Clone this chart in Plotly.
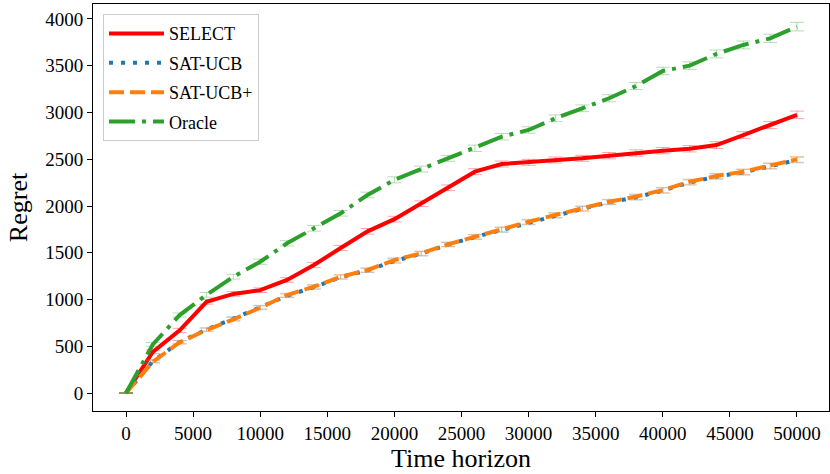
import plotly.graph_objects as go

time_steps = [0, 2000, 4000, 6000, 8000, 10000, 12000, 14000, 16000, 18000, 20000,
              22000, 24000, 26000, 28000, 30000, 32000, 34000, 36000, 38000, 40000,
              42000, 44000, 46000, 48000, 50000]

select_regret = [0, 440, 670, 975, 1060, 1100, 1209, 1369, 1551, 1729, 1860,
                 2025, 2195, 2367, 2449, 2467, 2492, 2510, 2538, 2567, 2592,
                 2612, 2652, 2759, 2866, 2975]
select_err = [5, 20, 22, 25, 25, 25, 25, 28, 28, 30, 30,
              30, 30, 32, 32, 32, 32, 32, 34, 34, 34, 34, 36, 36, 38, 40]

sat_ucb_regret = [0, 340, 545, 680, 795, 918, 1040, 1132, 1240, 1312, 1412,
                  1490, 1588, 1668, 1745, 1825, 1898, 1970, 2040, 2092, 2165,
                  2252, 2315, 2360, 2425, 2492]
sat_ucb_err = [5, 15, 18, 18, 20, 20, 20, 22, 22, 22, 24,
               24, 24, 24, 26, 26, 26, 26, 26, 28, 28, 28, 28, 30, 30, 30]

sat_ucb_plus_regret = [0, 335, 542, 674, 788, 912, 1048, 1137, 1244, 1316, 1422,
                       1494, 1590, 1672, 1751, 1832, 1904, 1975, 2046, 2100, 2171,
                       2260, 2321, 2367, 2431, 2499]
sat_ucb_plus_err = [5, 15, 18, 18, 20, 20, 20, 22, 22, 22, 24,
                    24, 24, 24, 26, 26, 26, 26, 26, 28, 28, 28, 28, 30, 30, 30]

oracle_regret = [0, 520, 834, 1050, 1244, 1404, 1601, 1761, 1922, 2118, 2280,
                 2395, 2510, 2617, 2741, 2813, 2938, 3045, 3152, 3283, 3444,
                 3501, 3626, 3722, 3793, 3918]
oracle_err = [5, 20, 22, 25, 25, 28, 28, 30, 30, 30, 32,
              32, 32, 34, 34, 34, 36, 36, 38, 38, 40, 40, 42, 42, 44, 46]

x_ticks = [0, 5000, 10000, 15000, 20000, 25000, 30000, 35000, 40000, 45000, 50000]
x_tick_labels = ["0", "5000", "10000", "15000", "20000", "25000", "30000",
                 "35000", "40000", "45000", "50000"]
y_ticks = [0, 500, 1000, 1500, 2000, 2500, 3000, 3500, 4000]
y_tick_labels = ["0", "500", "1000", "1500", "2000", "2500", "3000", "3500", "4000"]

series = [
    ("SELECT", select_regret, select_err, "#ff0000", "rgba(255,0,0,0.35)", "solid", 4),
    ("SAT-UCB", sat_ucb_regret, sat_ucb_err, "#1f77b4", "rgba(31,119,180,0.35)", "4px,8px", 4),
    ("SAT-UCB+", sat_ucb_plus_regret, sat_ucb_plus_err, "#ff7f0e", "rgba(255,127,14,0.35)", "15px,6px", 4),
    ("Oracle", oracle_regret, oracle_err, "#2ca02c", "rgba(44,160,44,0.35)", "26px,7px,4px,7px", 4),
]

fig = go.Figure()
for name, vals, err, color, ecolor, dash, lw in series:
    fig.add_trace(go.Scatter(
        x=time_steps, y=vals, mode="lines", name=name, legendgroup=name,
        line=dict(color=color, width=lw, dash=dash),
        error_y=dict(type="data", array=err, color=ecolor, thickness=1, width=7),
    ))

font_family = "Liberation Serif, Times New Roman, serif"
fig.update_layout(
    width=830, height=474,
    margin=dict(l=93, r=1, t=4, b=63),
    paper_bgcolor="white", plot_bgcolor="white",
    font=dict(family=font_family, size=18, color="black"),
    showlegend=True,
    legend=dict(x=0.0136, y=0.975, xanchor="left", yanchor="top",
                bgcolor="rgba(255,255,255,0.8)", bordercolor="#cccccc", borderwidth=1,
                font=dict(family=font_family, size=18, color="black"),
                tracegroupgap=3, itemwidth=55),
    xaxis=dict(range=[-2460, 52385], tickvals=x_ticks, ticktext=x_tick_labels,
               ticks="outside", ticklen=5,
               tickcolor="black", showline=True, linecolor="black", linewidth=1,
               mirror=True, showgrid=False, zeroline=False,
               tickfont=dict(family=font_family, size=19),
               title=dict(text="Time horizon", font=dict(family=font_family, size=26), standoff=2)),
    yaxis=dict(range=[-192, 4160], tickvals=y_ticks, ticktext=y_tick_labels,
               ticks="outside", ticklen=5,
               tickcolor="black", showline=True, linecolor="black", linewidth=1,
               mirror=True, showgrid=False, zeroline=False,
               tickfont=dict(family=font_family, size=19),
               title=dict(text="Regret", font=dict(family=font_family, size=26), standoff=10)),
)

fig.write_html("out.html", config={"displayModeBar": False},
               post_script="document.body.style.margin='0';")
